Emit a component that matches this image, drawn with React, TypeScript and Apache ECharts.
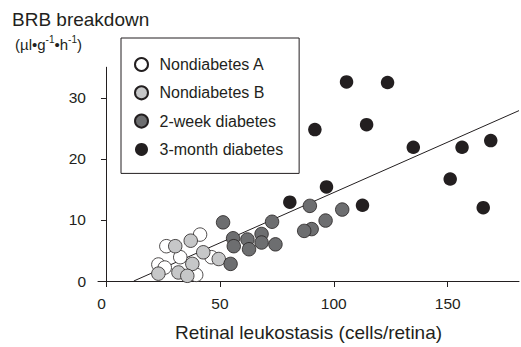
import React, { useEffect, useRef } from "react";
import * as echarts from "echarts";

const seriesNames = ["Nondiabetes A", "Nondiabetes B", "2-week diabetes", "3-month diabetes"];

const nondiabetesA: number[][] = [
  [41.3, 7.6], [26.5, 5.7], [32.6, 3.9], [23.0, 2.7], [25.8, 2.2], [39.6, 1.0], [46.3, 3.9],
];
const nondiabetesB: number[][] = [
  [30.4, 5.7], [37.2, 6.6], [42.7, 4.7], [49.5, 3.6], [37.9, 2.8], [23.0, 1.2], [31.8, 1.4], [35.7, 0.85],
];
const twoWeekDiabetes: number[][] = [
  [89.5, 12.3], [72.9, 9.7], [103.7, 11.7], [96.4, 9.9], [90.3, 8.5], [87.0, 8.2], [68.3, 7.7],
  [68.3, 6.3], [74.4, 6.0], [51.4, 9.6], [55.8, 7.0], [62.1, 6.8], [56.1, 5.7], [62.8, 5.2], [54.7, 2.8],
];
const threeMonthDiabetes: number[][] = [
  [105.6, 32.6], [123.6, 32.5], [91.7, 24.8], [114.4, 25.6], [134.9, 21.9], [156.3, 21.9],
  [168.9, 23.0], [151.1, 16.7], [165.6, 12.0], [96.8, 15.4], [80.7, 12.9], [112.6, 12.4],
];
const regressionLine: number[][] = [[12.2, 0], [181.3, 27.9]];

const xTicks = [0, 50, 100, 150];
const yTicks = [0, 10, 20, 30];

const INK = "#231f20";
const FONT = "'Liberation Sans', Arial, Helvetica, sans-serif";

export default function App() {
  const ref = useRef<HTMLDivElement>(null);
  useEffect(() => {
    if (!ref.current) return;
    const chart = echarts.init(ref.current, undefined, { renderer: "svg" });
    const pointSeries = (name: string, data: number[][], color: string, border: boolean) => ({
      type: "scatter",
      name,
      data,
      symbol: "circle",
      symbolSize: 13.5,
      z: 3,
      itemStyle: {
        color,
        borderColor: INK,
        borderWidth: border ? 0.8 : 0,
        opacity: 1,
      },
    });
    chart.setOption({
      animation: false,
      textStyle: { fontFamily: FONT, color: INK },
      title: {
        text: "BRB breakdown",
        left: 12,
        top: 9.5,
        padding: 0,
        textStyle: { fontSize: 19, fontWeight: "normal", color: INK, fontFamily: FONT },
      },
      graphic: [
        {
          type: "text",
          left: 15,
          top: 34,
          style: {
            text: "{n|(µl•g}{s|-1}{n|•h}{s|-1}{n|)}",
            rich: {
              n: { fontSize: 15, lineHeight: 18, fontFamily: FONT, fill: INK, verticalAlign: "bottom" },
              s: { fontSize: 10, lineHeight: 11, fontFamily: FONT, fill: INK, verticalAlign: "top" },
            },
          },
        },
      ],
      legend: {
        data: seriesNames,
        orient: "vertical",
        left: 121,
        top: 38,
        padding: [18.5, 16, 16, 13],
        itemGap: 12.3,
        itemWidth: 26,
        itemHeight: 13,
        borderColor: INK,
        borderWidth: 1,
        borderRadius: 0,
        textStyle: { fontSize: 16, color: INK, fontFamily: FONT },
      },
      grid: { left: 98, right: 2, top: 67.25, bottom: 61, containLabel: false },
      xAxis: {
        type: "value",
        min: -3.5,
        max: 181.3,
        splitLine: { show: false },
        axisLine: { show: true, onZero: false, lineStyle: { color: INK, width: 1 } },
        axisTick: { show: true, length: 6, customValues: xTicks, lineStyle: { color: INK } },
        axisLabel: {
          customValues: xTicks,
          fontSize: 15.5,
          color: INK,
          margin: 14.5,
          fontFamily: FONT,
          formatter: (v: number) => (v === 0 ? "{z|0}" : String(v)),
          rich: { z: { fontSize: 15.5, fontFamily: FONT, color: INK, padding: [0, 9, 0, 0] } },
        },
        name: "Retinal leukostasis (cells/retina)",
        nameLocation: "middle",
        nameGap: 42,
        nameTextStyle: { fontSize: 19, color: INK, fontFamily: FONT },
      },
      yAxis: {
        type: "value",
        min: 0,
        max: 35,
        splitLine: { show: false },
        axisLine: { show: true, lineStyle: { color: INK, width: 1 } },
        axisTick: { show: true, length: 5, customValues: yTicks, lineStyle: { color: INK } },
        axisLabel: { customValues: yTicks, fontSize: 15.5, color: INK, margin: 12, fontFamily: FONT },
      },
      series: [
        {
          type: "line",
          data: regressionLine,
          symbol: "none",
          z: 1,
          silent: true,
          lineStyle: { color: INK, width: 1 },
        },
        pointSeries(seriesNames[0], nondiabetesA, "#ffffff", true),
        pointSeries(seriesNames[1], nondiabetesB, "#c6c7c8", true),
        pointSeries(seriesNames[2], twoWeekDiabetes, "#6d6e70", true),
        pointSeries(seriesNames[3], threeMonthDiabetes, INK, false),
      ],
    });
    return () => chart.dispose();
  }, []);
  return (
    <div
      ref={ref}
      style={{ position: "absolute", left: 0, top: 0, width: 521, height: 347, background: "#fff" }}
    />
  );
}
